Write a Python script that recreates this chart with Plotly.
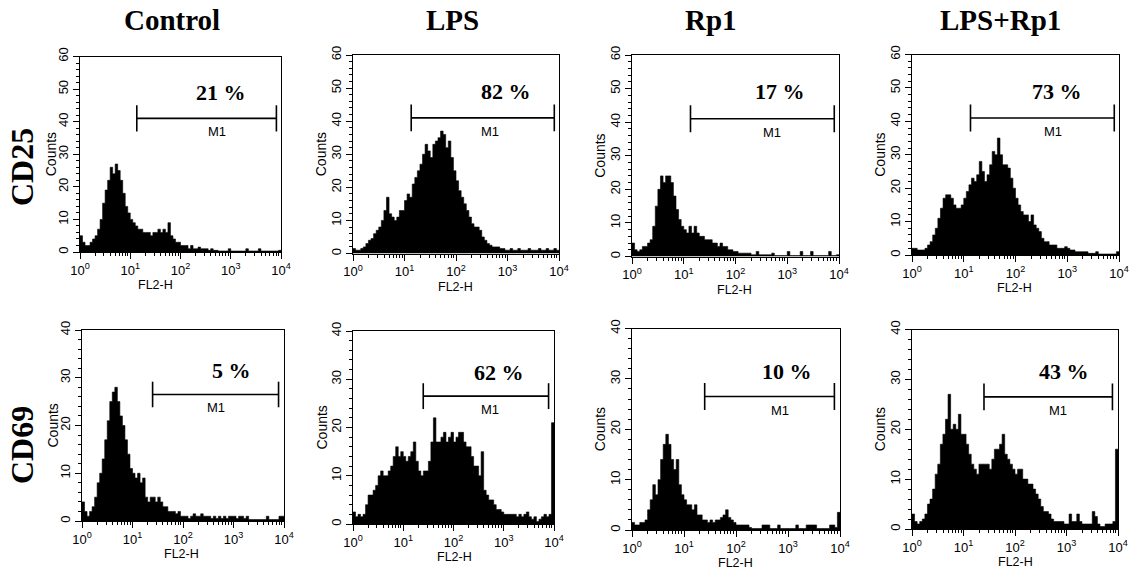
import numpy as np
import plotly.graph_objects as go

# ---------------- data ----------------
COLUMNS = ["Control", "LPS", "Rp1", "LPS+Rp1"]
ROWS = ["CD25", "CD69"]
PERCENTS = [["21 %", "82 %", "17 %", "73 %"],
            ["5 %", "62 %", "10 %", "43 %"]]
GATE_LABEL = "M1"
X_TITLE = "FL2-H"
Y_TITLE = "Counts"

# FL2-H channel bins: 20 bins per decade from 10^0 to 10^4 (log10 edges)
LOG_EDGES = np.linspace(0, 4, 81)

CD25_CONTROL = [5, 3, 2, 2, 3, 4, 5, 7, 10, 15, 19, 22, 26, 24, 27, 25, 22, 18, 14, 12,
                10, 9, 8, 7, 7, 6, 6, 6, 5, 6, 6, 7, 6, 7, 6, 9, 5, 4, 3, 3,
                2, 2, 2, 1, 2, 1, 1, 1.5, 1, 1, 1, 0.5, 1, 0.5, 0.5, 0.3, 0.3, 0.3, 0.3, 1,
                0.3, 0.3, 0.3, 0.3, 0.3, 0.3, 1, 0.3, 0.3, 0.3, 0.3, 1, 0.3, 0.3, 0.3, 0.3, 0.3, 0.3, 0.3, 0.5]
CD25_LPS = [1.5, 1, 1, 1.5, 2, 3, 4, 4.5, 6, 7, 8, 10, 13, 17, 12, 11, 10, 11, 13, 13,
            16, 18, 17, 21, 23, 25, 27, 30, 33, 31, 29, 33, 34, 35, 37, 36, 32, 34, 29, 25,
            22, 19, 17, 15, 13, 11, 9, 8, 8, 7, 5, 4, 3, 2.5, 2, 2, 2, 1.5, 1.5, 1,
            1, 1.5, 1, 1, 1.5, 1, 1, 1, 1.5, 1, 1, 1, 1.5, 1, 1, 1.5, 1, 1, 1.5, 1]
CD25_RP1 = [4, 2, 1.5, 2, 3, 3, 4, 5, 9, 15, 20, 24, 22, 24, 24, 22, 18, 14, 11, 9,
            8, 7, 9, 7, 9, 7, 6, 6, 5, 5, 5, 4, 4, 3, 4, 3, 3, 2, 2, 1.5,
            1.5, 1, 1, 1, 1, 1, 0.5, 0.5, 1.5, 0.5, 0.5, 0.5, 0.5, 0.5, 1, 0.3, 0.3, 0.3, 0.3, 0.3,
            1.5, 0.3, 0.3, 0.3, 0.3, 1.5, 0.3, 0.3, 0.3, 1.5, 0.3, 0.3, 0.3, 0.3, 0.3, 0.3, 1.5, 0.3, 0.3, 0.5]
CD25_LPS_RP1 = [2, 2, 1.5, 1.5, 1.5, 2, 3, 4, 6, 8, 11, 14, 17, 18, 18, 17, 15, 14, 14, 15,
                17, 19, 21, 23, 22, 24, 28, 25, 22, 24, 27, 31, 30, 35, 30, 27, 27, 26, 23, 20,
                17, 15, 13, 12, 12, 10, 12, 9, 8, 7, 5, 4, 4, 3, 3, 3, 2, 2, 2, 2.5,
                2, 1.5, 1.5, 1, 1, 1, 1, 1, 0.5, 0.5, 0.5, 1, 0.3, 0.3, 0.3, 0.3, 0.3, 0.3, 0.3, 1]
CD69_CONTROL = [4, 2, 1, 2, 3, 5, 8, 10, 13, 17, 21, 25, 27, 28, 25, 22, 20, 17, 14, 11,
                10, 9, 10, 8, 9, 5, 4, 5, 5, 4, 5, 4, 3, 3, 2, 2, 2, 1.5, 2, 1,
                1, 1, 0.5, 1, 1.5, 1, 1, 1.5, 1, 1, 1, 0.5, 1, 0.5, 1, 0.5, 1, 0.5, 1, 1,
                1, 0.5, 1, 1, 0.5, 1, 0.3, 0.3, 0.3, 0.3, 0.3, 0.3, 0.3, 1, 0.3, 0.3, 0.3, 0.3, 1, 1]
CD69_LPS = [2.5, 1.5, 2, 1.5, 2, 4, 6, 6, 7, 8, 10, 11, 10, 10, 11, 12, 14, 16, 14, 15,
            14, 13, 14, 15, 17, 13, 11, 10, 11, 11, 13, 17, 22, 17, 17, 18, 19, 17, 18, 19,
            17, 18, 19, 19, 17, 16, 16, 14, 12, 12, 10, 15, 7, 6, 5, 5, 4, 3, 3, 2.5,
            2, 2, 2, 2, 2, 1.5, 2, 1.5, 2, 2.5, 1.5, 1, 1.5, 0.5, 1, 1.5, 2, 1.5, 2, 21]
CD69_RP1 = [1.5, 1, 1, 1.5, 1.5, 2, 4, 6, 9, 7, 10, 14, 17, 19, 17, 14, 12, 14, 9, 7,
            6, 5, 5, 4, 5, 3, 3, 2, 2, 1.5, 2, 1.5, 2, 2, 2.5, 3, 4, 2.5, 2, 1.5,
            1, 1, 1, 1, 1, 0.5, 0.3, 0.3, 0.3, 0.3, 1, 1, 1, 0.3, 0.3, 0.3, 1, 0.3, 0.3, 0.3,
            0.3, 0.3, 0.3, 1, 0.3, 0.3, 0.3, 1, 1, 1, 1, 0.3, 0.3, 0.3, 0.3, 0.3, 1, 1, 0.5, 3.5]
CD69_LPS_RP1 = [3, 1.5, 1, 1.5, 2, 3, 5, 6, 8, 11, 13, 17, 19, 22, 27, 20, 21, 20, 23, 19,
                19, 17, 15, 13, 12, 11, 13, 13, 13, 13, 12, 14, 16, 16, 17, 19, 15, 14, 13, 12,
                11, 12, 12, 10, 10, 9, 9, 8, 7, 6, 4.5, 3.5, 3.5, 3, 2, 1.5, 1.5, 1.5, 1.5, 1,
                1, 3, 1.5, 1.5, 3, 1.5, 1, 1, 1, 1, 3.5, 2.5, 1, 0.5, 0.5, 1, 1, 1, 1.5, 16]

HISTS = [[CD25_CONTROL, CD25_LPS, CD25_RP1, CD25_LPS_RP1],
         [CD69_CONTROL, CD69_LPS, CD69_RP1, CD69_LPS_RP1]]

# gate (M1) bounds in FL2-H units and count level, per row
GATE_LO = [13.5, 25.0]
GATE_HI = [8100.0, 7800.0]
GATE_Y = [41, 26.5]
Y_MAX = [60, 40]

# ---------------- layout helpers ----------------
W, H = 1130, 572
# pixel boxes of each plot area: (left, right, top, bottom)
BOXES = [[(80, 281, 56.5, 252), (353, 559, 55, 253.5), (632, 839, 55, 256.5), (912, 1119, 54.5, 255)],
         [(82, 284, 330, 521), (353, 554, 331, 524), (632, 840, 328.5, 530), (912, 1118, 329.5, 529)]]
PCT_POS = [[(2.8, 49), (2.98, 49), (2.86, 49), (2.8, 49)],
           [(2.96, 31.5), (2.91, 31.5), (2.98, 31.5), (2.95, 31.5)]]
M1_POS = [[(2.72, 37), (2.66, 37), (2.7, 37), (2.72, 37)],
          [(2.66, 23.8), (2.72, 23.8), (2.84, 23.8), (2.84, 23.8)]]
# horizontal pixel centres of the x-axis titles; they sit 33 px below each axis
XTITLE_X_PX = [[155, 455, 734, 1014], [181, 454, 735, 1015]]
XTITLE_GAP = 33
YTITLE_X_PX = [[51, 321, 600, 880], [52, 321, 600, 880]]
TITLE_X = [172, 452, 711, 1000]
ROW_Y = [167, 445]

SANS = "Liberation Sans, Arial, sans-serif"
SERIF = "Liberation Serif, Times New Roman, serif"

minor_x = [m * 10 ** d for d in range(4) for m in range(2, 10)]

fig = go.Figure()
layout = dict(width=W, height=H, margin=dict(l=0, r=0, t=0, b=0, autoexpand=False),
              paper_bgcolor="white", plot_bgcolor="white", showlegend=False)
annotations = []

x_edges = (10 ** LOG_EDGES).tolist()
k = 0
for r in range(2):
    for c in range(4):
        k += 1
        xa = "x" if k == 1 else f"x{k}"
        ya = "y" if k == 1 else f"y{k}"
        counts = HISTS[r][c]
        fig.add_trace(go.Scatter(
            x=x_edges, y=list(counts) + [counts[-1]], xaxis=xa, yaxis=ya,
            mode="lines", line=dict(shape="hv", color="black", width=0.6),
            fill="tozeroy", fillcolor="black", hoverinfo="skip"))
        # gate marker M1
        cap = Y_MAX[r] * 0.067
        gx = [GATE_LO[r], GATE_HI[r], None, GATE_LO[r], GATE_LO[r], None, GATE_HI[r], GATE_HI[r]]
        gy = [GATE_Y[r], GATE_Y[r], None, GATE_Y[r] - cap, GATE_Y[r] + cap, None,
              GATE_Y[r] - cap, GATE_Y[r] + cap]
        fig.add_trace(go.Scatter(x=gx, y=gy, xaxis=xa, yaxis=ya, mode="lines",
                                 line=dict(color="black", width=1.6), hoverinfo="skip"))
        L, R, T, B = BOXES[r][c]
        axk = "xaxis" if k == 1 else f"xaxis{k}"
        ayk = "yaxis" if k == 1 else f"yaxis{k}"
        layout[axk] = dict(
            domain=[L / W, R / W], anchor=ya, type="log", range=[0, 4], automargin=False,
            tickvals=[1, 10, 100, 1000, 10000],
            ticktext=["10<sup>0</sup>", "10<sup>1</sup>", "10<sup>2</sup>",
                      "10<sup>3</sup>", "10<sup>4</sup>"],
            ticks="outside", ticklen=6, tickwidth=1.2, tickcolor="black",
            minor=dict(tickvals=minor_x, ticks="outside", ticklen=3, tickwidth=1, tickcolor="black"),
            showline=True, linecolor="black", linewidth=1.3, mirror=True,
            showgrid=False, zeroline=False,
            tickfont=dict(family=SANS, size=13, color="black"),
        )
        layout[ayk] = dict(
            domain=[1 - B / H, 1 - T / H], anchor=xa, range=[0, Y_MAX[r]], automargin=False,
            dtick=10, tick0=0, ticks="outside", ticklen=6, tickwidth=1.2, tickcolor="black",
            minor=dict(dtick=2, ticks="outside", ticklen=3, tickwidth=1, tickcolor="black"),
            showline=True, linecolor="black", linewidth=1.3, mirror=True,
            showgrid=False, zeroline=False, tickangle=-90,
            tickfont=dict(family=SANS, size=13, color="black"),
        )
        px_, py_ = PCT_POS[r][c]
        annotations.append(dict(x=px_, y=py_, xref=xa, yref=ya, text=f"<b>{PERCENTS[r][c]}</b>",
                                showarrow=False, font=dict(family=SERIF, size=22, color="black"),
                                xanchor="center", yanchor="middle"))
        mx, my = M1_POS[r][c]
        annotations.append(dict(x=mx, y=my, xref=xa, yref=ya, text=GATE_LABEL,
                                showarrow=False, font=dict(family=SANS, size=13, color="black"),
                                xanchor="center", yanchor="middle"))
        annotations.append(dict(x=XTITLE_X_PX[r][c] / W, y=1 - (B + XTITLE_GAP) / H,
                                xref="paper", yref="paper", text=X_TITLE,
                                showarrow=False, font=dict(family=SANS, size=12.5, color="black"),
                                xanchor="center", yanchor="middle"))
        annotations.append(dict(x=YTITLE_X_PX[r][c] / W, y=1 - (T + B) / 2 / H, xref="paper",
                                yref="paper", text=Y_TITLE, showarrow=False, textangle=-90,
                                font=dict(family=SANS, size=14, color="black"),
                                xanchor="center", yanchor="middle"))

for c in range(4):
    annotations.append(dict(x=TITLE_X[c] / W, y=1 - 20 / H, xref="paper", yref="paper",
                            text=f"<b>{COLUMNS[c]}</b>", showarrow=False,
                            font=dict(family=SERIF, size=29, color="black"),
                            xanchor="center", yanchor="middle"))
for r in range(2):
    annotations.append(dict(x=22 / W, y=1 - ROW_Y[r] / H, xref="paper", yref="paper",
                            text=f"<b>{ROWS[r]}</b>", showarrow=False, textangle=-90,
                            font=dict(family=SERIF, size=32, color="black"),
                            xanchor="center", yanchor="middle"))

layout["annotations"] = annotations
fig.update_layout(**layout)
fig.write_html("out.html", config={"displayModeBar": False},
               post_script="document.body.style.margin='0';document.body.style.overflow='hidden';")
